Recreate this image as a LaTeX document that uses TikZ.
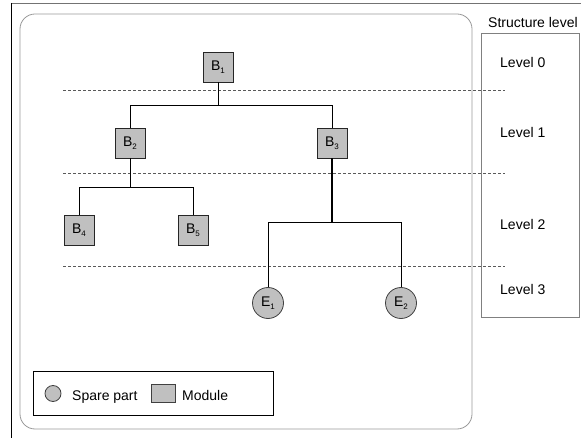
\documentclass[tikz,border=0pt]{standalone}
\usepackage{fontspec}
\setmainfont{Liberation Sans}
\begin{document}
\begin{tikzpicture}[x=1pt,y=-1pt,
  every node/.style={font=\fontsize{14}{16}\selectfont},
  partfill/.style={fill={rgb,255:red,192;green,192;blue,192}},
  modbox/.style={partfill,draw=black!85,line width=0.8pt,minimum width=30pt,minimum height=30pt,inner sep=0pt},
  sparecirc/.style={partfill,draw=black!75,line width=0.8pt,circle,minimum size=31pt,inner sep=0pt},
  tree/.style={line width=0.9pt,black},
  levelsep/.style={draw=black!65,line width=0.8pt,dash pattern=on 3pt off 2pt},
  lbl/.style={anchor=base west,inner sep=0pt}]
\useasboundingbox (0,0) rectangle (581,438);
% page frame
\draw[black!55,line width=0.8pt] (11,3) -- (581,3);
\draw[black,line width=0.8pt] (11,3) -- (11,438);
% component area
\draw[black!40,line width=0.8pt,rounded corners=15pt] (20,14) rectangle (472,429);
% structure level column
\draw[black!50,line width=0.7pt] (481,33) rectangle (579,317);
\node[lbl] (sl) at (488,28) {Structure level};
\node[lbl] (l0) at (500,68) {Level 0};
\node[lbl] (l1) at (500,138) {Level 1};
\node[lbl] (l2) at (500,230) {Level 2};
\node[lbl] (l3) at (500,295) {Level 3};
% level separators
\draw[levelsep] (63,90) -- (505,90);
\draw[levelsep] (63,173) -- (505,173);
\draw[levelsep] (63,266) -- (505,266);
% modules and spare parts
\newcommand{\sub}[1]{\raisebox{-3pt}{\fontsize{8}{8}\selectfont #1}}
\node[modbox] (B1) at (218,67) {B\sub{1}};
\node[modbox] (B2) at (130,143) {B\sub{2}};
\node[modbox] (B3) at (332,143) {B\sub{3}};
\node[modbox] (B4) at (79,230) {B\sub{4}};
\node[modbox] (B5) at (193,230) {B\sub{5}};
\node[sparecirc] (E1) at (268,303) {E\sub{1}};
\node[sparecirc] (E2) at (401,303) {E\sub{2}};
% branch points
\coordinate (j1) at (218,105);
\coordinate (j2) at (130,187);
\coordinate (j3) at (332,222);
\draw[tree] (B1.south) -- (j1);
\draw[tree] (B2.north) |- (j1);
\draw[tree] (B3.north) |- (j1);
\draw[tree] (B2.south) -- (j2);
\draw[tree] (B4.north) |- (j2);
\draw[tree] (B5.north) |- (j2);
\draw[tree,line width=1.4pt] (B3.south) -- (j3);
\draw[tree] (E1.north) |- (j3);
\draw[tree] (E2.north) |- (j3);
% legend
\draw[black,line width=0.8pt] (33,371) rectangle (273,415);
\node[partfill,draw=black!75,line width=0.8pt,circle,minimum size=16pt,inner sep=0pt] (lc) at (53,393.5) {};
\node[lbl] (lct) at (72,400) {Spare part};
\node[partfill,draw=black!75,line width=0.8pt,minimum width=24pt,minimum height=18pt,inner sep=0pt] (lm) at (163,393.5) {};
\node[lbl] (lmt) at (182,400) {Module};
\end{tikzpicture}
\end{document}
